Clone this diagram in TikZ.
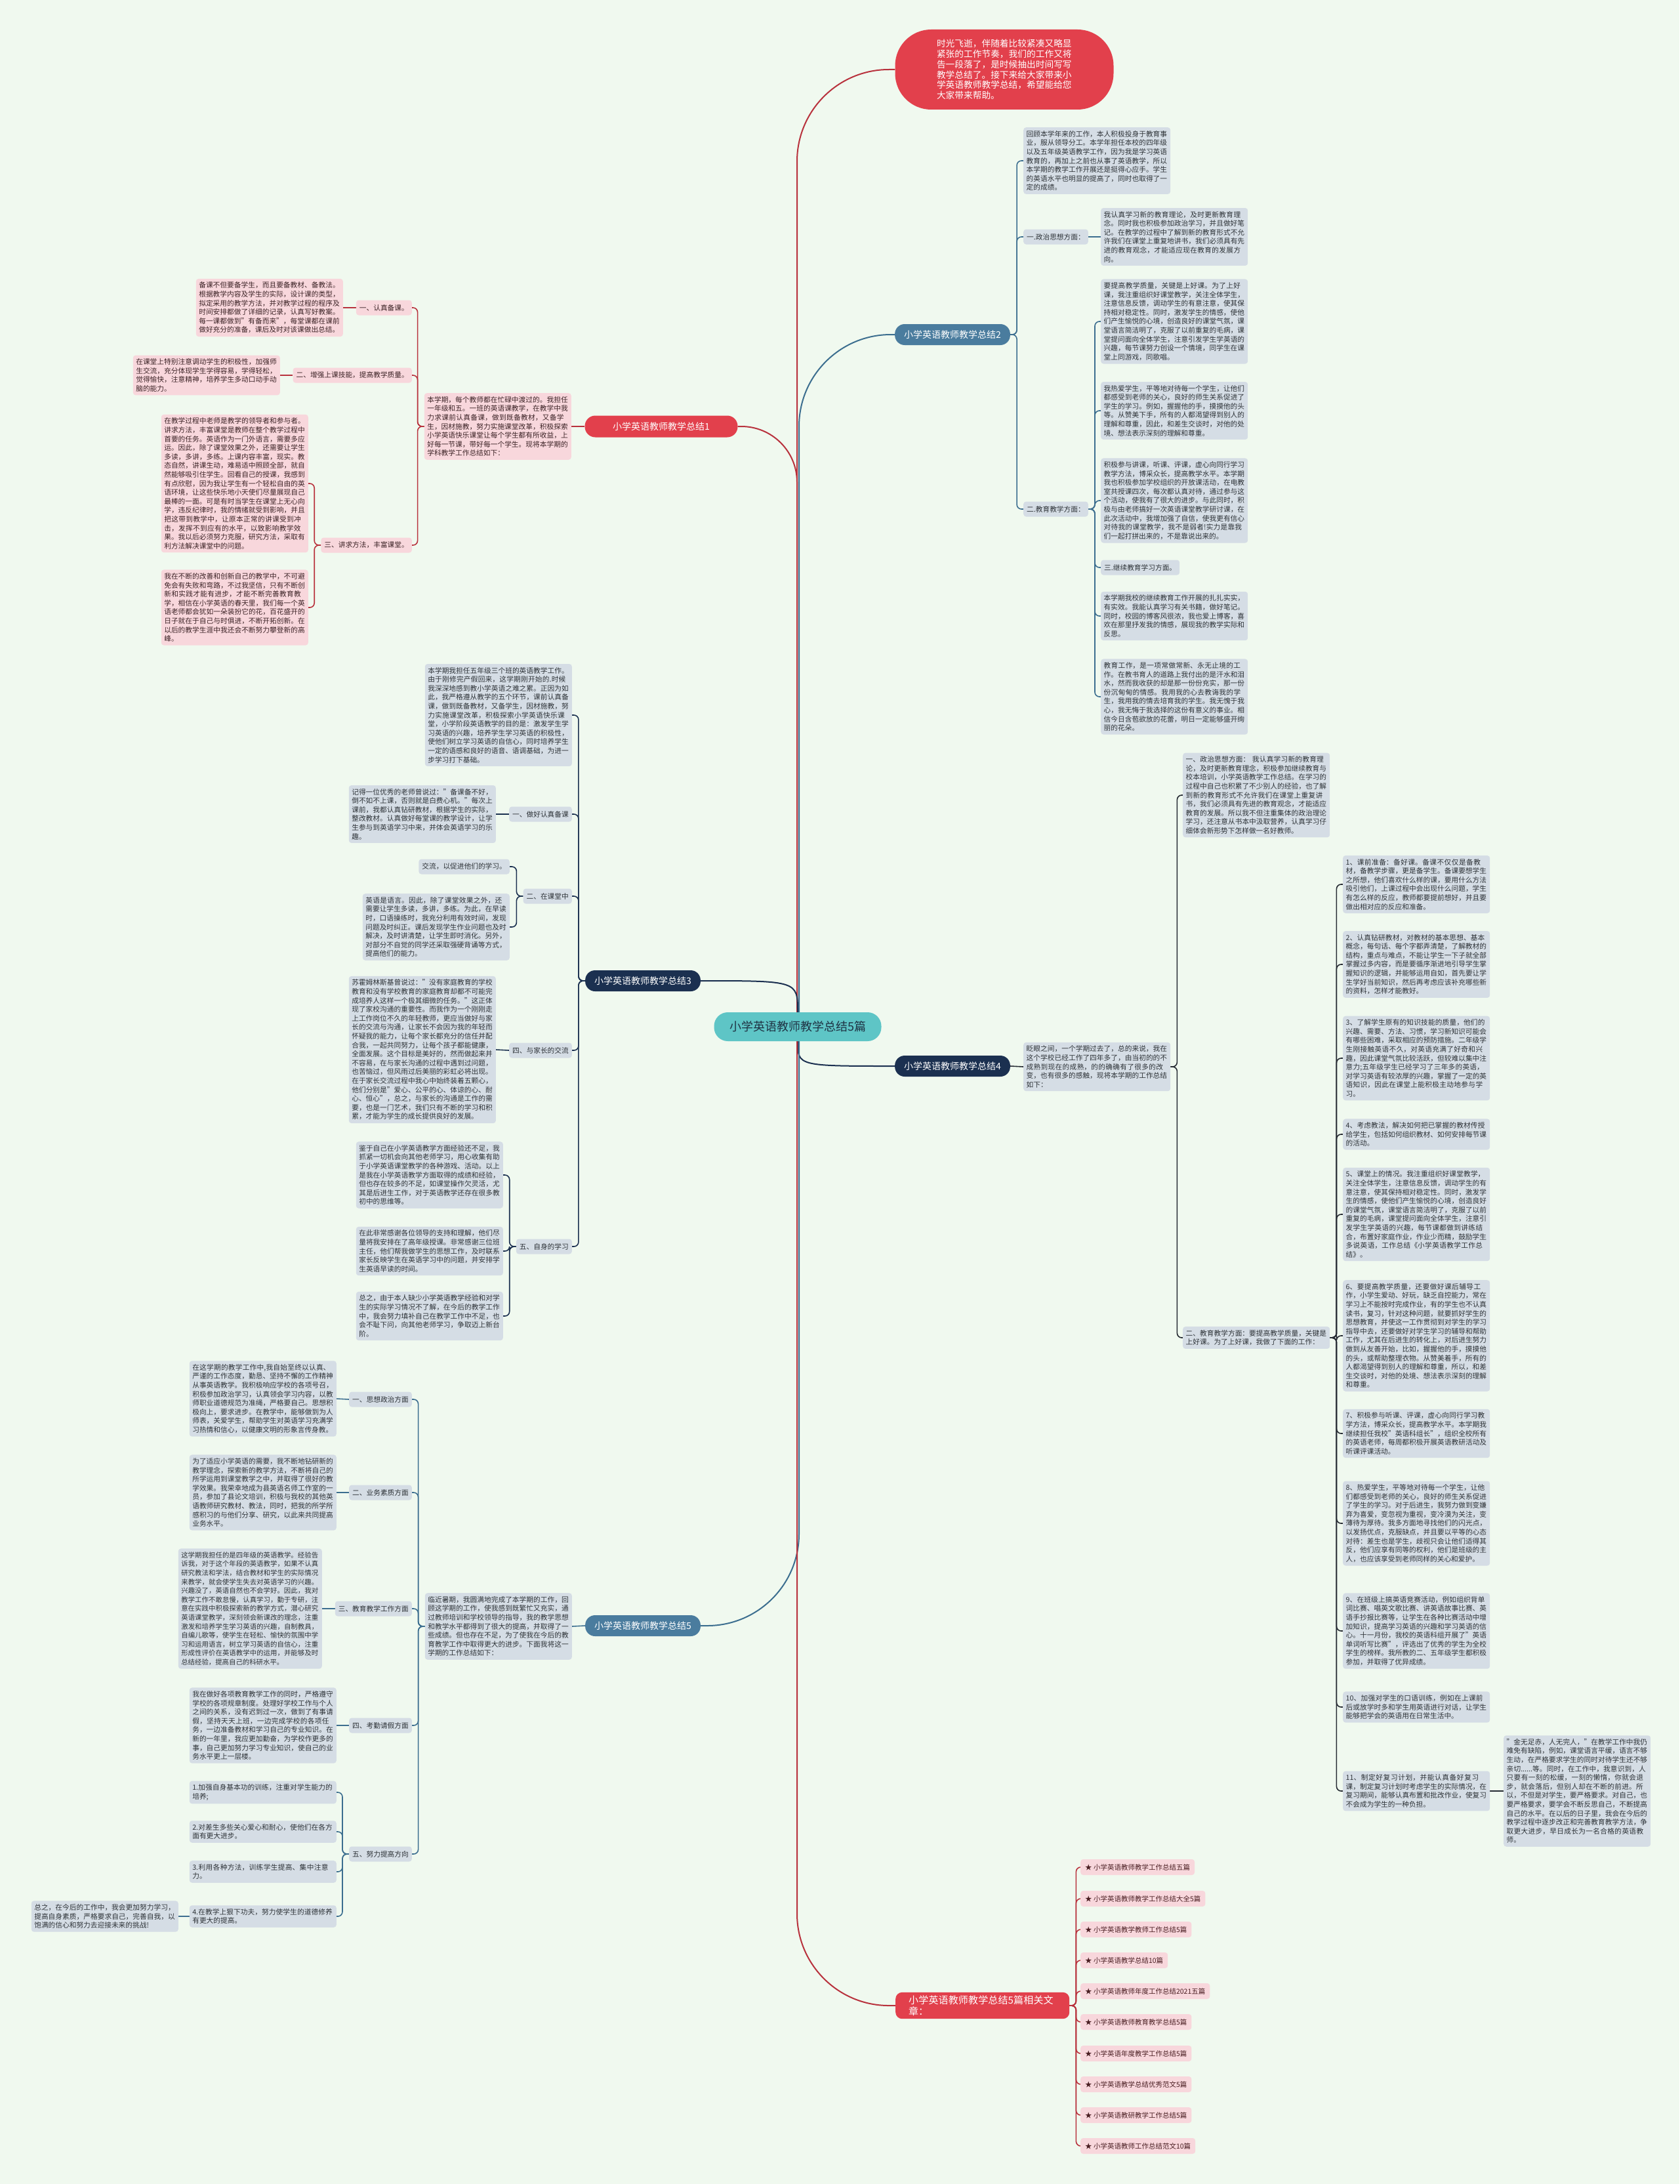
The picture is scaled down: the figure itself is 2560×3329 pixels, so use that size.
\documentclass[tikz,border=0pt]{standalone}
\usepackage{fontspec}
\setmainfont{Noto Sans CJK SC}
\XeTeXlinebreaklocale "zh"
\XeTeXlinebreakskip = 0pt plus 1pt
\usepackage{tikz}
\pgfdeclarelayer{bglayer}
\pgfdeclarelayer{edgelayer}
\pgfdeclarelayer{nodelayer}
\pgfsetlayers{bglayer,edgelayer,nodelayer,main}
\definecolor{bgcol}{HTML}{F0F9EF}
\definecolor{redfill}{HTML}{E2404C}
\definecolor{redline}{HTML}{B8323D}
\definecolor{pinkfill}{HTML}{F8D7DC}
\definecolor{pinktext}{HTML}{3C2326}
\definecolor{grayfill}{HTML}{D5DDE5}
\definecolor{graytext}{HTML}{2E3338}
\definecolor{steelfill}{HTML}{4A7C9E}
\definecolor{steelline}{HTML}{3C6E8F}
\definecolor{navyfill}{HTML}{1B3050}
\definecolor{navyline}{HTML}{1B3050}
\definecolor{darkline}{HTML}{262B33}
\definecolor{tealfill}{HTML}{5EC5C6}
\definecolor{roottext}{HTML}{1F3344}
\definecolor{linktext}{HTML}{4A1E22}
\newcommand{\boxfont}{\fontsize{10.7pt}{13.6pt}\selectfont}
\newcommand{\topicfont}{\fontsize{14pt}{16pt}\selectfont}
\newcommand{\rootfont}{\fontsize{18pt}{20pt}\selectfont}
\newcommand{\introfont}{\fontsize{13.7pt}{15.8pt}\selectfont}
\newcommand{\linkfont}{\fontsize{10.5pt}{12pt}\selectfont}
\newcommand{\relfont}{\fontsize{15pt}{16.5pt}\selectfont}
\tikzstyle{pinkbox}=[rectangle, rounded corners=4pt, fill=pinkfill, text=pinktext, font=\boxfont, text width=215pt, inner xsep=4.5pt, inner ysep=5pt, align=left]
\tikzstyle{graybox}=[rectangle, rounded corners=4pt, fill=grayfill, text=graytext, font=\boxfont, text width=215pt, inner xsep=4.5pt, inner ysep=5pt, align=left]
\tikzstyle{pinktag}=[rectangle, rounded corners=4pt, fill=pinkfill, text=pinktext, font=\boxfont, inner xsep=5pt, inner ysep=4pt, minimum height=23pt]
\tikzstyle{graytag}=[rectangle, rounded corners=4pt, fill=grayfill, text=graytext, font=\boxfont, inner xsep=5pt, inner ysep=4pt, minimum height=23pt]
\tikzstyle{redtopic}=[rectangle, rounded corners=16pt, fill=redfill, text=white, font=\topicfont, minimum height=33pt, minimum width=233pt]
\tikzstyle{steeltopic}=[rectangle, rounded corners=15pt, fill=steelfill, text=white, font=\topicfont, minimum height=32pt, inner xsep=14pt]
\tikzstyle{navytopic}=[rectangle, rounded corners=15pt, fill=navyfill, text=white, font=\topicfont, minimum height=32pt, inner xsep=14pt]
\tikzstyle{root}=[rectangle, rounded corners=21pt, fill=tealfill, text=roottext, font=\rootfont, minimum width=255pt, minimum height=44pt]
\tikzstyle{opener}=[rectangle, rounded corners=55pt, fill=redfill, text=white, font=\introfont, text width=206pt, minimum width=333pt, minimum height=122pt, align=left]
\tikzstyle{related}=[rectangle, rounded corners=10pt, fill=redfill, text=white, font=\relfont, text width=225pt, inner xsep=20pt, inner ysep=5pt, align=left]
\tikzstyle{linktag}=[rectangle, rounded corners=4pt, fill=pinkfill, text=linktext, font=\linkfont, inner xsep=7pt, minimum height=24pt]
\tikzstyle{redtrunk}=[draw=redline, line width=2pt]
\tikzstyle{steeltrunk}=[draw=steelline, line width=2pt]
\tikzstyle{navytrunk}=[draw=navyline, line width=2pt]
\tikzstyle{redwire}=[draw=redline, line width=1.6pt, rounded corners=7pt]
\tikzstyle{steelwire}=[draw=steelline, line width=1.6pt, rounded corners=7pt]
\tikzstyle{navywire}=[draw=navyline, line width=1.6pt, rounded corners=7pt]
\tikzstyle{darkwire}=[draw=darkline, line width=1.6pt, rounded corners=7pt]

\begin{document}
\begin{tikzpicture}[x=1pt, y=-1pt]
	\begin{pgfonlayer}{bglayer}
		\fill [bgcol] (0, 0) rectangle (2560, 3329);
	\end{pgfonlayer}
	\begin{pgfonlayer}{nodelayer}
		\node [style=root] (0) at (1216, 1565) {小学英语教师教学总结5篇};
		\node [style=opener] (1) at (1531, 106) {时光飞逝，伴随着比较紧凑又略显紧张的工作节奏，我们的工作又将告一段落了，是时候抽出时间写写教学总结了。接下来给大家带来小学英语教师教学总结，希望能给您大家带来帮助。};
		\node [style=redtopic] (2) at (1008, 650) {小学英语教师教学总结1};
		\node [style=steeltopic] (3) at (1452, 510) {小学英语教师教学总结2};
		\node [style=navytopic] (4) at (980, 1495) {小学英语教师教学总结3};
		\node [style=navytopic] (5) at (1452, 1625) {小学英语教师教学总结4};
		\node [style=steeltopic] (6) at (980, 2478) {小学英语教师教学总结5};
		\node [style=related, anchor=west] (7) at (1365, 3057) {小学英语教师教学总结5篇相关文章：};

		% summary 1
		\node [style=pinkbox, anchor=east] (21) at (871, 650) {本学期，每个教师都在忙碌中渡过的。我担任一年级和五。一班的英语课教学，在教学中我力求课前认真备课，做到既备教材，又备学生，因材施教，努力实施课堂改革，积极探索小学英语快乐课堂让每个学生都有所收益，上好每一节课，带好每一个学生。现将本学期的学科教学工作总结如下：};
		\node [style=pinktag, anchor=east] (22) at (628, 469) {一、认真备课。};
		\node [style=pinktag, anchor=east] (23) at (628, 572) {二、增强上课技能，提高教学质量。};
		\node [style=pinktag, anchor=east] (24) at (628, 831) {三、讲求方法，丰富课堂。};
		\node [style=pinkbox, anchor=east] (25) at (523, 469) {备课不但要备学生，而且要备教材、备教法。根据教学内容及学生的实际，设计课的类型，拟定采用的教学方法，并对教学过程的程序及时间安排都做了详细的记录，认真写好教案。每一课都做到"有备而来"，每堂课都在课前做好充分的准备，课后及时对该课做出总结。};
		\node [style=pinkbox, anchor=east] (26) at (427, 572) {在课堂上特别注意调动学生的积极性，加强师生交流，充分体现学生学得容易，学得轻松，觉得愉快，注意精神，培养学生多动口动手动脑的能力。};
		\node [style=pinkbox, anchor=east] (27) at (470, 737) {在教学过程中老师是教学的领导者和参与者。讲求方法，丰富课堂是教师在整个教学过程中首要的任务。英语作为一门外语言，需要多应运。因此，除了课堂效果之外，还需要让学生多读，多讲，多练。上课内容丰富，现实。教态自然，讲课生动，难易适中照顾全部，就自然能够吸引住学生。回看自己的授课，我感到有点欣慰，因为我让学生有一个轻松自由的英语环境，让这些快乐地小天使们尽量展现自己最棒的一面。可是有时当学生在课堂上无心向学，违反纪律时，我的情绪就受到影响，并且把这带到教学中，让原本正常的讲课受到冲击，发挥不到应有的水平，以致影响教学效果。我以后必须努力克服，研究方法，采取有利方法解决课堂中的问题。};
		\node [style=pinkbox, anchor=east] (28) at (470, 926) {我在不断的改善和创新自己的教学中，不可避免会有失败和弯路，不过我坚信，只有不断创新和实践才能有进步，才能不断完善教育教学，相信在小学英语的春天里，我们每一个英语老师都会犹如一朵装扮它的花，百花盛开的日子就在于自己与时俱进，不断开拓创新。在以后的教学生涯中我还会不断努力攀登新的高峰。};

		% summary 2
		\node [style=graybox, anchor=west] (31) at (1560, 245) {回顾本学年来的工作，本人积极投身于教育事业，服从领导分工。本学年担任本校的四年级以及五年级英语教学工作，因为我是学习英语教育的，再加上之前也从事了英语教学，所以本学期的教学工作开展还是挺得心应手。学生的英语水平也明显的提高了，同时也取得了一定的成绩。};
		\node [style=graytag, anchor=west] (32) at (1560, 361) {一.政治思想方面：};
		\node [style=graybox, anchor=west] (33) at (1678, 361) {我认真学习新的教育理论，及时更新教育理念。同时我也积极参加政治学习，并且做好笔记。在教学的过程中了解到新的教育形式不允许我们在课堂上重复地讲书，我们必须具有先进的教育观念，才能适应现在教育的发展方向。};
		\node [style=graytag, anchor=west] (34) at (1560, 776) {二.教育教学方面：};
		\node [style=graybox, anchor=west] (35) at (1678, 490) {要提高教学质量，关键是上好课。为了上好课，我注重组织好课堂教学，关注全体学生，注意信息反馈，调动学生的有意注意，使其保持相对稳定性。同时，激发学生的情感，使他们产生愉悦的心境，创造良好的课堂气氛，课堂语言简洁明了，克服了以前重复的毛病，课堂提问面向全体学生，注意引发学生学英语的兴趣，每节课努力创设一个情境，同学生在课堂上同游戏，同歌唱。};
		\node [style=graybox, anchor=west] (36) at (1678, 626) {我热爱学生，平等地对待每一个学生，让他们都感受到老师的关心，良好的师生关系促进了学生的学习。例如，握握他的手，摸摸他的头等。从赞美下手，所有的人都渴望得到别人的理解和尊重，因此，和差生交谈时，对他的处境、想法表示深刻的理解和尊重。};
		\node [style=graybox, anchor=west] (37) at (1678, 763) {积极参与讲课，听课、评课，虚心向同行学习教学方法，博采众长，提高教学水平。本学期我也积极参加学校组织的开放课活动，在电教室共授课四次，每次都认真对待，通过参与这个活动，使我有了很大的进步。与此同时，积极与由老师搞好一次英语课堂教学研讨课，在此次活动中，我增加强了自信，使我更有信心对待我的课堂教学，我不是弱者!实力是靠我们一起打拼出来的，不是靠说出来的。};
		\node [style=graytag, anchor=west] (38) at (1678, 865) {三.继续教育学习方面。};
		\node [style=graybox, anchor=west] (39) at (1678, 939) {本学期我校的继续教育工作开展的扎扎实实，有实效。我能认真学习有关书籍，做好笔记。同时，校园的博客风很浓，我也爱上博客，喜欢在那里抒发我的情感，展现我的教学实际和反思。};
		\node [style=graybox, anchor=west] (40) at (1678, 1062) {教育工作，是一项常做常新、永无止境的工作。在教书育人的道路上我付出的是汗水和泪水，然而我收获的却是那一份份充实，那一份份沉甸甸的情感。我用我的心去教诲我的学生，我用我的情去培育我的学生。我无愧于我心，我无悔于我选择的这份有意义的事业。相信今日含苞欲放的花蕾，明日一定能够盛开绚丽的花朵。};

		% summary 3
		\node [style=graybox, anchor=east] (41) at (872, 1090) {本学期我担任五年级三个班的英语教学工作。由于刚修完产假回来，这学期刚开始的.时候我深深地感到教小学英语之难之累。正因为如此，我严格遵从教学的五个环节，课前认真备课，做到既备教材，又备学生，因材施教，努力实施课堂改革，积极探索小学英语快乐课堂，小学阶段英语教学的目的是：激发学生学习英语的兴趣，培养学生学习英语的积极性，使他们树立学习英语的自信心，同时培养学生一定的语感和良好的语音、语调基础，为进一步学习打下基础。};
		\node [style=graytag, anchor=east] (42) at (872, 1241) {一、做好认真备课};
		\node [style=graybox, anchor=east] (43) at (756, 1241) {记得一位优秀的老师曾说过："备课备不好，倒不如不上课，否则就是白费心机。"每次上课前，我都认真钻研教材，根据学生的实际，整改教材。认真做好每堂课的教学设计，让学生参与到英语学习中来，并体会英语学习的乐趣。};
		\node [style=graytag, anchor=east] (44) at (872, 1366) {二、在课堂中};
		\node [style=graytag, anchor=east] (45) at (777, 1321) {交流，以促进他们的学习。};
		\node [style=graybox, anchor=east] (46) at (777, 1413) {英语是语言。因此，除了课堂效果之外，还需要让学生多读，多讲，多练。为此，在早读时，口语操练时，我充分利用有效时间，发现问题及时纠正。课后发现学生作业问题也及时解决，及时讲清楚，让学生即时消化。另外，对部分不自觉的同学还采取强硬背诵等方式，提高他们的能力。};
		\node [style=graytag, anchor=east] (47) at (872, 1601) {四、与家长的交流};
		\node [style=graybox, anchor=east] (48) at (756, 1600) {苏霍姆林斯基曾说过："没有家庭教育的学校教育和没有学校教育的家庭教育却都不可能完成培养人这样一个极其细微的任务。"这正体现了家校沟通的重要性。而我作为一个刚刚走上工作岗位不久的年轻教师，更应当做好与家长的交流与沟通，让家长不会因为我的年轻而怀疑我的能力，让每个家长都充分的信任并配合我，一起共同努力，让每个孩子都能健康，全面发展。这个目标是美好的，然而做起来并不容易，在与家长沟通的过程中遇到过问题，也苦恼过，但风雨过后美丽的彩虹必将出现。在于家长交流过程中我心中始终装着五颗心，他们分别是"爱心、公平的心、体谅的心、耐心、恒心"，总之，与家长的沟通是工作的需要，也是一门艺术，我们只有不断的学习和积累，才能为学生的成长提供良好的发展。};
		\node [style=graytag, anchor=east] (49) at (872, 1900) {五、自身的学习};
		\node [style=graybox, anchor=east] (50) at (767, 1791) {鉴于自己在小学英语教学方面经验还不足，我抓紧一切机会向其他老师学习，用心收集有助于小学英语课堂教学的各种游戏、活动。以上是我在小学英语教学方面取得的成绩和经验，但也存在较多的不足，如课堂操作欠灵活，尤其是后进生工作，对于英语教学还存在很多教初中的思维等。};
		\node [style=graybox, anchor=east] (51) at (767, 1907) {在此非常感谢各位领导的支持和理解，他们尽量将我安排在了高年级授课。非常感谢三位班主任，他们帮我做学生的思想工作，及时联系家长反映学生在英语学习中的问题，并安排学生英语早读的时间。};
		\node [style=graybox, anchor=east] (52) at (767, 2006) {总之，由于本人缺少小学英语教学经验和对学生的实际学习情况不了解，在今后的教学工作中，我会努力填补自己在教学工作中不足，也会不耻下问，向其他老师学习，争取迈上新台阶。};

		% summary 4
		\node [style=graybox, anchor=west] (53) at (1560, 1626) {眨眼之间，一个学期过去了，总的来说，我在这个学校已经工作了四年多了，由当初的的不成熟到现在的成熟，的的确确有了很多的改变，也有很多的感触，现将本学期的工作总结如下：};
		\node [style=graybox, anchor=west] (54) at (1803, 1212) {一、政治思想方面：\ 我认真学习新的教育理论，及时更新教育理念，积极参加继续教育与校本培训，小学英语教学工作总结。在学习的过程中自己也积累了不少别人的经验，也了解到新的教育形式不允许我们在课堂上重复讲书，我们必须具有先进的教育观念，才能适应教育的发展。所以我不但注重集体的政治理论学习，还注意从书本中汲取营养，认真学习仔细体会新形势下怎样做一名好教师。};
		\node [style=graybox, anchor=west] (55) at (1803, 2039) {二、教育教学方面：要提高教学质量，关键是上好课。为了上好课，我做了下面的工作：};
		\node [style=graybox, anchor=west] (56) at (2047, 1348) {1、课前准备：备好课。备课不仅仅是备教材，备教学步骤，更是备学生。备课要想学生之所想，他们喜欢什么样的课，要用什么方法吸引他们，上课过程中会出现什么问题，学生有怎么样的反应，教师都要提前想好，并且要做出相对应的反应和准备。};
		\node [style=graybox, anchor=west] (57) at (2047, 1470) {2、认真钻研教材，对教材的基本思想、基本概念，每句话、每个字都弄清楚，了解教材的结构，重点与难点，不能让学生一下子就全部掌握过多内容，而是要循序渐进地引导学生掌握知识的逻辑，并能够运用自如，首先要让学生学好当前知识，然后再考虑应该补充哪些新的资料，怎样才能教好。};
		\node [style=graybox, anchor=west] (58) at (2047, 1613) {3、了解学生原有的知识技能的质量，他们的兴趣、需要、方法、习惯，学习新知识可能会有哪些困难，采取相应的预防措施。二年级学生刚接触英语不久，对英语充满了好奇和兴趣，因此课堂气氛比较活跃，但较难以集中注意力;五年级学生已经学习了三年多的英语，对学习英语有较浓厚的兴趣，掌握了一定的英语知识，因此在课堂上能积极主动地参与学习。};
		\node [style=graybox, anchor=west] (59) at (2047, 1729) {4、考虑教法，解决如何把已掌握的教材传授给学生，包括如何组织教材、如何安排每节课的活动。};
		\node [style=graybox, anchor=west] (60) at (2047, 1851) {5、课堂上的情况。我注重组织好课堂教学，关注全体学生，注意信息反馈，调动学生的有意注意，使其保持相对稳定性。同时，激发学生的情感，使他们产生愉悦的心境，创造良好的课堂气氛，课堂语言简洁明了，克服了以前重复的毛病，课堂提问面向全体学生，注意引发学生学英语的兴趣，每节课都做到讲练结合，布置好家庭作业，作业少而精，鼓励学生多说英语，工作总结《小学英语教学工作总结》。};
		\node [style=graybox, anchor=west] (61) at (2047, 2036) {6、要提高教学质量，还要做好课后辅导工作，小学生爱动、好玩，缺乏自控能力，常在学习上不能按时完成作业，有的学生也不认真读书，复习，针对这种问题，就要抓好学生的思想教育，并使这一工作贯彻到对学生的学习指导中去，还要做好对学生学习的辅导和帮助工作，尤其在后进生的转化上，对后进生努力做到从友善开始，比如，握握他的手，摸摸他的头，或帮助整理衣物。从赞美着手，所有的人都渴望得到别人的理解和尊重，所以，和差生交谈时，对他的处境、想法表示深刻的理解和尊重。};
		\node [style=graybox, anchor=west] (62) at (2047, 2185) {7、积极参与听课、评课，虚心向同行学习教学方法，博采众长，提高教学水平。本学期我继续担任我校"英语科组长"，组织全校所有的英语老师，每周都积极开展英语教研活动及听课评课活动。};
		\node [style=graybox, anchor=west] (63) at (2047, 2322) {8、热爱学生，平等地对待每一个学生，让他们都感受到老师的关心，良好的师生关系促进了学生的学习。对于后进生，我努力做到变嫌弃为喜爱，变忽视为重视，变冷漠为关注，变薄待为厚待。我多方面地寻找他们的闪光点，以发扬优点，克服缺点，并且要以平等的心态对待：差生也是学生，歧视只会让他们适得其反，他们应享有同等的权利，他们是班级的主人，也应该享受到老师同样的关心和爱护。};
		\node [style=graybox, anchor=west] (64) at (2047, 2486) {9、在班级上搞英语竞赛活动，例如组织背单词比赛、唱英文歌比赛、讲英语故事比赛、英语手抄报比赛等，让学生在各种比赛活动中增加知识，提高学习英语的兴趣和学习英语的信心。十一月份，我校的英语科组开展了"英语单词听写比赛"，评选出了优秀的学生为全校学生的榜样。我所教的二、五年级学生都积极参加，并取得了优异成绩。};
		\node [style=graybox, anchor=west] (65) at (2047, 2602) {10、加强对学生的口语训练，例如在上课前后或放学时多和学生用英语进行对话，让学生能够把学会的英语用在日常生活中。};
		\node [style=graybox, anchor=west] (66) at (2047, 2730) {11、制定好复习计划，并能认真备好复习课，制定复习计划时考虑学生的实际情况，在复习期间，能够认真布置和批改作业，使复习不会成为学生的一种负担。};
		\node [style=graybox, anchor=west] (67) at (2292, 2730) {"金无足赤，人无完人，"在教学工作中我仍难免有缺陷，例如，课堂语言平缓，语言不够生动，在严格要求学生的同时对待学生还不够亲切......等。同时，在工作中，我意识到，人只要有一刻的松缓，一刻的懒惰，你就会退步，就会落后，但别人却在不断的前进。所以，不但是对学生，要严格要求。对自己，也要严格要求，要学会不断反思自己，不断提高自己的水平。在以后的日子里，我会在今后的教学过程中逐步改正和完善教育教学方法，争取更大进步，早日成长为一名合格的英语教师。};

		% summary 5
		\node [style=graybox, anchor=east] (71) at (872, 2479) {临近暑期，我圆满地完成了本学期的工作，回顾这学期的工作，使我感到既繁忙又充实，通过教师培训和学校领导的指导，我的教学思想和教学水平都得到了很大的提高，并取得了一些成绩。但也存在不足，为了使我在今后的教育教学工作中取得更大的进步。下面我将这一学期的工作总结如下：};
		\node [style=graytag, anchor=east] (72) at (628, 2133) {一、思想政治方面};
		\node [style=graybox, anchor=east] (73) at (513, 2132) {在这学期的教学工作中,我自始至终以认真、严谨的工作态度，勤恳、坚持不懈的工作精神从事英语教学。我积极响应学校的各项号召，积极参加政治学习，认真领会学习内容，以教师职业道德规范为准绳，严格要自己。思想积极向上，要求进步。在教学中，能够做到为人师表，关爱学生，帮助学生对英语学习充满学习热情和信心，以健康文明的形象言传身教。};
		\node [style=graytag, anchor=east] (74) at (628, 2275) {二、业务素质方面};
		\node [style=graybox, anchor=east] (75) at (513, 2275) {为了适应小学英语的需要，我不断地钻研新的教学理念，探索新的教学方法，不断将自己的所学运用到课堂教学之中，并取得了很好的教学效果。我荣幸地成为县英语名师工作室的一员，参加了县论文培训，积极与我校的其他英语教师研究教材、教法，同时，把我的所学所感积习的与他们分享、研究，以此来共同提高业务水平。};
		\node [style=graytag, anchor=east] (76) at (628, 2452) {三、教育教学工作方面};
		\node [style=graybox, anchor=east, text width=210pt, font=\fontsize{10.4pt}{13.6pt}\selectfont] (77) at (491, 2452) {这学期我担任的是四年级的英语教学。经验告诉我，对于这个年段的英语教学，如果不认真研究教法和学法，结合教材和学生的实际情况来教学，就会使学生失去对英语学习的兴趣。兴趣没了，英语自然也不会学好。因此，我对教学工作不敢怠慢，认真学习，勤于专研，注意在实践中积极探索新的教学方式，潜心研究英语课堂教学，深刻领会新课改的理念，注重激发和培养学生学习英语的兴趣，自制教具，自编儿歌等，使学生在轻松、愉快的氛围中学习和运用语言，树立学习英语的自信心，注重形成性评价在英语教学中的运用，并能够及时总结经验，提高自己的科研水平。};
		\node [style=graytag, anchor=east] (78) at (628, 2630) {四、考勤请假方面};
		\node [style=graybox, anchor=east] (79) at (513, 2630) {我在做好各项教育教学工作的同时，严格遵守学校的各项规章制度。处理好学校工作与个人之间的关系，没有迟到过一次，做到了有事请假，坚持天天上班，一边完成学校的各项任务，一边准备教材和学习自己的专业知识。在新的一年里，我应更加勤奋，为学校作更多的事，自己更加努力学习专业知识，使自己的业务水平更上一层楼。};
		\node [style=graytag, anchor=east] (80) at (628, 2826) {五、努力提高方向};
		\node [style=graybox, anchor=east] (81) at (513, 2732) {1.加强自身基本功的训练，注重对学生能力的培养;};
		\node [style=graybox, anchor=east] (82) at (513, 2792) {2.对差生多些关心爱心和耐心，使他们在各方面有更大进步。};
		\node [style=graybox, anchor=east] (83) at (513, 2853) {3.利用各种方法，训练学生提高、集中注意力。};
		\node [style=graybox, anchor=east] (84) at (513, 2921) {4.在教学上狠下功夫，努力使学生的道德修养有更大的提高。};
		\node [style=graybox, anchor=east] (85) at (272, 2921) {总之，在今后的工作中，我会更加努力学习，提高自身素质，严格要求自己，完善自我，以饱满的信心和努力去迎接未来的挑战!};

		% related
		\node [style=linktag, anchor=west] (86) at (1647, 2846) {★ 小学英语教师教学工作总结五篇};
		\node [style=linktag, anchor=west] (87) at (1647, 2894) {★ 小学英语教师教学工作总结大全5篇};
		\node [style=linktag, anchor=west] (88) at (1647, 2941) {★ 小学英语教学教师工作总结5篇};
		\node [style=linktag, anchor=west] (89) at (1647, 2988) {★ 小学英语教学总结10篇};
		\node [style=linktag, anchor=west] (90) at (1647, 3035) {★ 小学英语教师年度工作总结2021五篇};
		\node [style=linktag, anchor=west] (91) at (1647, 3082) {★ 小学英语教师教育教学总结5篇};
		\node [style=linktag, anchor=west] (92) at (1647, 3130) {★ 小学英语年度教学工作总结5篇};
		\node [style=linktag, anchor=west] (93) at (1647, 3177) {★ 小学英语教学总结优秀范文5篇};
		\node [style=linktag, anchor=west] (94) at (1647, 3224) {★ 小学英语教研教学工作总结5篇};
		\node [style=linktag, anchor=west] (95) at (1647, 3271) {★ 小学英语教师工作总结范文10篇};
	\end{pgfonlayer}
	\begin{pgfonlayer}{edgelayer}
		\draw [style=steeltrunk, rounded corners=140pt] ([xshift=2pt]0.north) |- (3.west);
		\draw [style=redtrunk, rounded corners=140pt] ([xshift=-1pt]0.north) |- (1.west);
		\draw [style=redtrunk, rounded corners=85pt] ([xshift=-1pt]0.north) |- (2.east);
		\draw [style=navytrunk] (0.north) .. controls (0.north |- 4.east) .. (4.east);
		\draw [style=navytrunk] (0.south) .. controls (0.south |- 5.west) .. (5.west);
		\draw [style=steeltrunk, rounded corners=140pt] ([xshift=2pt]0.south) |- (6.east);
		\draw [style=redtrunk, rounded corners=140pt] ([xshift=-1pt]0.south) |- (7.west);

		\draw [style=redwire] (2.west) -- (21.east);
		\draw [style=redwire] (21.west) -- ++(-10, 0) |- (22.east);
		\draw [style=redwire] (21.west) -- ++(-10, 0) |- (23.east);
		\draw [style=redwire] (21.west) -- ++(-10, 0) |- (24.east);
		\draw [style=redwire] (22.west) -- (25.east);
		\draw [style=redwire] (23.west) -- (26.east);
		\draw [style=redwire] (24.west) -- ++(-10, 0) |- (27.east);
		\draw [style=redwire] (24.west) -- ++(-10, 0) |- (28.east);

		\draw [style=steelwire] (3.east) -- ++(10, 0) |- (31.west);
		\draw [style=steelwire] (3.east) -- ++(10, 0) |- (32.west);
		\draw [style=steelwire] (3.east) -- ++(10, 0) |- (34.west);
		\draw [style=steelwire] (32.east) -- (33.west);
		\draw [style=steelwire] (34.east) -- ++(10, 0) |- (35.west);
		\draw [style=steelwire] (34.east) -- ++(10, 0) |- (36.west);
		\draw [style=steelwire] (34.east) -- ++(10, 0) |- (37.west);
		\draw [style=steelwire] (34.east) -- ++(10, 0) |- (38.west);
		\draw [style=steelwire] (34.east) -- ++(10, 0) |- (39.west);
		\draw [style=steelwire] (34.east) -- ++(10, 0) |- (40.west);

		\draw [style=navywire] (4.west) -- ++(-10, 0) |- (41.east);
		\draw [style=navywire] (4.west) -- ++(-10, 0) |- (42.east);
		\draw [style=navywire] (4.west) -- ++(-10, 0) |- (44.east);
		\draw [style=navywire] (4.west) -- ++(-10, 0) |- (47.east);
		\draw [style=navywire] (4.west) -- ++(-10, 0) |- (49.east);
		\draw [style=navywire] (42.west) -- (43.east);
		\draw [style=navywire] (44.west) -- ++(-10, 0) |- (45.east);
		\draw [style=navywire] (44.west) -- ++(-10, 0) |- (46.east);
		\draw [style=navywire] (47.west) -- (48.east);
		\draw [style=navywire] (49.west) -- ++(-10, 0) |- (50.east);
		\draw [style=navywire] (49.west) -- ++(-10, 0) |- (51.east);
		\draw [style=navywire] (49.west) -- ++(-10, 0) |- (52.east);

		\draw [style=darkwire] (5.east) -- (53.west);
		\draw [style=darkwire] (53.east) -- ++(10, 0) |- (54.west);
		\draw [style=darkwire] (53.east) -- ++(10, 0) |- (55.west);
		\draw [style=darkwire] (55.east) -- ++(10, 0) |- (56.west);
		\draw [style=darkwire] (55.east) -- ++(10, 0) |- (57.west);
		\draw [style=darkwire] (55.east) -- ++(10, 0) |- (58.west);
		\draw [style=darkwire] (55.east) -- ++(10, 0) |- (59.west);
		\draw [style=darkwire] (55.east) -- ++(10, 0) |- (60.west);
		\draw [style=darkwire] (55.east) -- ++(10, 0) |- (61.west);
		\draw [style=darkwire] (55.east) -- ++(10, 0) |- (62.west);
		\draw [style=darkwire] (55.east) -- ++(10, 0) |- (63.west);
		\draw [style=darkwire] (55.east) -- ++(10, 0) |- (64.west);
		\draw [style=darkwire] (55.east) -- ++(10, 0) |- (65.west);
		\draw [style=darkwire] (55.east) -- ++(10, 0) |- (66.west);
		\draw [style=darkwire] (66.east) -- (67.west);

		\draw [style=steelwire] (6.west) -- (71.east);
		\draw [style=steelwire] (71.west) -- ++(-10, 0) |- (72.east);
		\draw [style=steelwire] (71.west) -- ++(-10, 0) |- (74.east);
		\draw [style=steelwire] (71.west) -- ++(-10, 0) |- (76.east);
		\draw [style=steelwire] (71.west) -- ++(-10, 0) |- (78.east);
		\draw [style=steelwire] (71.west) -- ++(-10, 0) |- (80.east);
		\draw [style=steelwire] (72.west) -- (73.east);
		\draw [style=steelwire] (74.west) -- (75.east);
		\draw [style=steelwire] (76.west) -- (77.east);
		\draw [style=steelwire] (78.west) -- (79.east);
		\draw [style=steelwire] (80.west) -- ++(-10, 0) |- (81.east);
		\draw [style=steelwire] (80.west) -- ++(-10, 0) |- (82.east);
		\draw [style=steelwire] (80.west) -- ++(-10, 0) |- (83.east);
		\draw [style=steelwire] (80.west) -- ++(-10, 0) |- (84.east);
		\draw [style=steelwire] (84.west) -- (85.east);

		\draw [style=redwire] (7.east) -- ++(10, 0) |- (86.west);
		\draw [style=redwire] (7.east) -- ++(10, 0) |- (87.west);
		\draw [style=redwire] (7.east) -- ++(10, 0) |- (88.west);
		\draw [style=redwire] (7.east) -- ++(10, 0) |- (89.west);
		\draw [style=redwire] (7.east) -- ++(10, 0) |- (90.west);
		\draw [style=redwire] (7.east) -- ++(10, 0) |- (91.west);
		\draw [style=redwire] (7.east) -- ++(10, 0) |- (92.west);
		\draw [style=redwire] (7.east) -- ++(10, 0) |- (93.west);
		\draw [style=redwire] (7.east) -- ++(10, 0) |- (94.west);
		\draw [style=redwire] (7.east) -- ++(10, 0) |- (95.west);
	\end{pgfonlayer}
\end{tikzpicture}
\end{document}
